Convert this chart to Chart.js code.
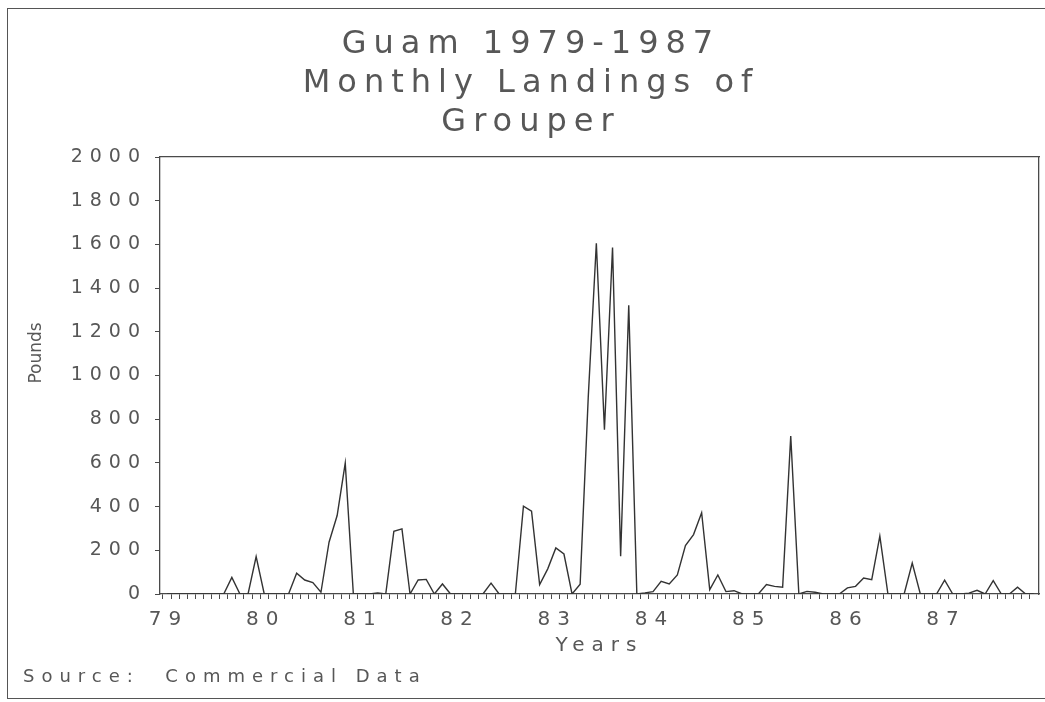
<!DOCTYPE html>
<html>
<head>
<meta charset="utf-8">
<title>Guam 1979-1987 Monthly Landings of Grouper</title>
<script src="https://cdn.jsdelivr.net/npm/chart.js@4.4.0/dist/chart.umd.min.js"></script>
<style>
    html, body { margin: 0; padding: 0; background: #fff; }
    #frame { position: relative; width: 1045px; height: 702px; overflow: hidden; }
    #frame canvas { position: absolute; left: 0; top: 0; }
    #border { position: absolute; left: 7px; top: 8px; width: 1060px; height: 691px; border: 1.5px solid #555; box-sizing: border-box; }
</style>
</head>
<body>
<div id="frame">
    <canvas id="landingsChart" width="1045" height="702"></canvas>
    <div id="border"></div>
</div>
<script>
// --- Chart data ---
const titleLines = ['Guam 1979-1987', 'Monthly Landings of', 'Grouper'];
const sourceNote = 'Source:  Commercial Data';
const xTitle = 'Years';
const yTitle = 'Pounds';
const yearLabels = ['79', '80', '81', '82', '83', '84', '85', '86', '87'];

// monthly landings in pounds, Jan 1979 .. Dec 1987
const landings = [
    0, 0, 0, 0, 0, 0, 0, 0, 76, 0, 0, 171,          // 1979
    0, 0, 0, 0, 95, 64, 52, 8, 237, 359, 599, 0,    // 1980
    0, 0, 5, 0, 287, 298, 0, 64, 67, 0, 46, 0,      // 1981
    0, 0, 0, 0, 50, 0, 0, 0, 402, 379, 43, 115,     // 1982
    211, 183, 0, 45, 900, 1605, 752, 1586, 173, 1321, 0, 5, // 1983
    11, 58, 46, 87, 222, 272, 372, 20, 87, 11, 15, 0,  // 1984
    0, 0, 43, 35, 31, 723, 0, 12, 8, 0, 0, 0,       // 1985
    28, 35, 73, 66, 265, 0, 0, 0, 142, 0, 0, 0,     // 1986
    63, 0, 0, 4, 17, 0, 61, 0, 0, 31, 0, 0          // 1987
];

// --- Styling ---
const fontFamily = '"DejaVu Sans", "Liberation Sans", sans-serif';
const textColor = '#575757';
const axisColor = '#4a4a4a';
const letterSpacing = '7px';

// points sit in the middle of each month, ticks on month starts
const points = landings.map((v, i) => ({ x: i + 0.5, y: v }));
const monthTicks = landings.map((v, i) => ({ value: i }));

// the stroke font of the original is very wide, so space the letters out
const spacingPlugin = {
    id: 'spacing',
    beforeUpdate(chart) { chart.ctx.letterSpacing = letterSpacing; },
    beforeDraw(chart) { chart.ctx.letterSpacing = letterSpacing; }
};

// y axis title sits a bit above the middle in the original
const poundsLabel = {
    id: 'poundsLabel',
    afterDraw(chart) {
        const ctx = chart.ctx;
        ctx.save();
        ctx.letterSpacing = '0px';
        ctx.font = '17px ' + fontFamily;
        ctx.fillStyle = textColor;
        ctx.translate(chart.chartArea.left - 123, 353);
        ctx.rotate(-Math.PI / 2);
        ctx.textAlign = 'center';
        ctx.textBaseline = 'middle';
        ctx.fillText(yTitle, 0, 0);
        ctx.restore();
    }
};

const ctx = document.getElementById('landingsChart').getContext('2d');
new Chart(ctx, {
    type: 'line',
    data: {
        datasets: [{
            label: 'Grouper',
            data: points,
            borderColor: '#333',
            borderWidth: 1.4,
            pointRadius: 0,
            tension: 0,
            fill: false
        }]
    },
    options: {
        responsive: false,
        animation: false,
        layout: { padding: { left: 23, right: 6, top: 0, bottom: 0 } },
        plugins: {
            legend: { display: false },
            tooltip: { enabled: false },
            title: {
                display: true,
                text: titleLines,
                color: textColor,
                font: { family: fontFamily, size: 32, weight: 'normal', lineHeight: 39 / 32 },
                padding: { top: 25, bottom: 15 }
            },
            subtitle: {
                display: true,
                position: 'bottom',
                align: 'start',
                text: sourceNote,
                color: textColor,
                font: { family: fontFamily, size: 18, weight: 'normal', lineHeight: 22 / 18 },
                padding: { top: 0, bottom: 14 }
            }
        },
        scales: {
            x: {
                type: 'linear',
                min: -0.37,
                max: 108.15,
                afterBuildTicks: scale => { scale.ticks = monthTicks.slice(); },
                afterFit: scale => { scale.height = 72; },
                ticks: {
                    autoSkip: false,
                    maxRotation: 0,
                    padding: 9,
                    labelOffset: 5.5,
                    color: textColor,
                    font: { family: fontFamily, size: 20 },
                    callback: v => (v % 12 === 0 ? yearLabels[v / 12] : '')
                },
                grid: { drawOnChartArea: false, tickLength: 5, color: axisColor, tickWidth: 1 },
                border: { color: axisColor, width: 1.3 },
                title: {
                    display: true,
                    text: xTitle,
                    color: textColor,
                    font: { family: fontFamily, size: 20 },
                    padding: { top: 0, bottom: 8 }
                }
            },
            y: {
                min: 0,
                max: 2000,
                afterFit: scale => { scale.width = 137; },
                ticks: {
                    stepSize: 200,
                    padding: 8,
                    color: textColor,
                    font: { family: fontFamily, size: 19 },
                    callback: v => String(v)
                },
                grid: { drawOnChartArea: false, tickLength: 5, color: axisColor, tickWidth: 1 },
                border: { color: axisColor, width: 1.3 }
            },
            // top and right edges of the plot box
            xTop: {
                type: 'linear',
                position: 'top',
                afterFit: scale => { scale.height = 0; },
                ticks: { display: false },
                grid: { display: false, drawTicks: false },
                border: { display: true, color: axisColor, width: 1.3 }
            },
            yRight: {
                type: 'linear',
                position: 'right',
                afterFit: scale => { scale.width = 0; },
                ticks: { display: false },
                grid: { display: false, drawTicks: false },
                border: { display: true, color: axisColor, width: 1.3 }
            }
        }
    },
    plugins: [spacingPlugin, poundsLabel]
});
</script>
</body>
</html>
